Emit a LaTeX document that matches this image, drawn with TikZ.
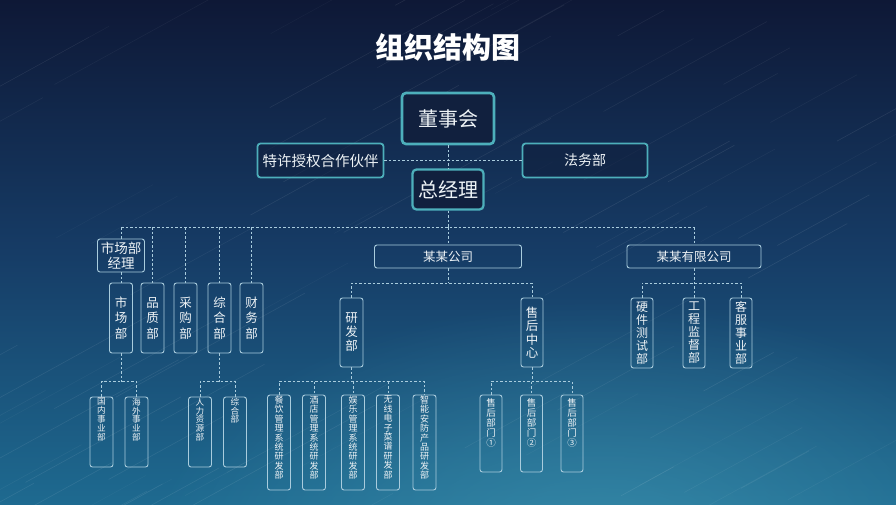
\documentclass[tikz,border=0pt]{standalone}
\usepackage{fontspec}
\setmainfont{Noto Sans CJK SC}
\usetikzlibrary{fadings}
\tikzfading[name=myglow, inner color=transparent!0, outer color=transparent!100]
\definecolor{bgtop}{HTML}{0E1836}
\definecolor{bgmid}{HTML}{163C66}
\definecolor{bgbot}{HTML}{1E6A90}
\definecolor{glowc}{HTML}{4AA3BC}
\definecolor{tealb}{HTML}{4DAFBB}
\definecolor{lineb}{HTML}{A9CCDD}
\definecolor{txt}{HTML}{EEF3F6}
\definecolor{boxfill}{HTML}{11203E}
\newcommand\topv[2]{\parbox[c][#1][t]{20pt}{\centering\vspace{1pt}#2}}
\tikzset{
  topbox/.style={draw=tealb, line width=2.6pt, rounded corners=4pt, fill=boxfill, text=txt, inner sep=0pt},
  sidebox/.style={draw=tealb, line width=1.8pt, rounded corners=3pt, fill=boxfill, fill opacity=0.6, text opacity=1, text=txt, inner sep=0pt},
  lowbox/.style={draw=lineb, line width=0.9pt, rounded corners=2.5pt, text=txt, inner sep=0pt, align=center},
  midv/.style={lowbox, minimum width=23pt, minimum height=70pt, font=\fontsize{12.5}{15.5}\selectfont},
  compbox/.style={lowbox, minimum height=23pt, font=\fontsize{12.5}{14}\selectfont},
  botv/.style={lowbox, minimum width=23pt, font=\fontsize{8.6}{8.8}\selectfont},
  rdv/.style={lowbox, minimum width=23pt, font=\fontsize{9}{9.4}\selectfont},
  shv/.style={lowbox, minimum width=22pt, font=\fontsize{9.5}{10}\selectfont},
  dl/.style={draw=lineb, line width=0.8pt, dash pattern=on 2.5pt off 2pt},
}
\begin{document}
\begin{tikzpicture}[x=1pt, y=-1pt]
\useasboundingbox (0,0) rectangle (896,504);
% background
\shade[top color=bgtop, bottom color=bgbot, middle color=bgmid] (0,0) rectangle (896,504);
\begin{scope}
\clip (0,0) rectangle (896,504);
\fill[glowc, fill opacity=0.55, path fading=myglow] (600,560) ellipse (460 and 260);
\pgfmathsetseed{7}
\foreach \i in {1,...,90}{
  \pgfmathsetmacro\sx{rnd*1000-150}
  \pgfmathsetmacro\sy{rnd*620}
  \pgfmathsetmacro\len{40+rnd*170}
  \pgfmathsetmacro\op{0.03+rnd*0.06}
  \draw[white, opacity=\op, line width=0.6pt] (\sx,\sy) -- ++(\len,-0.55*\len);
}
\end{scope}

% title
\node[text=white, font=\bfseries\fontsize{29}{30}\selectfont] (title) at (448,47) {组织结构图};

% top level
\node[topbox, minimum width=92pt, minimum height=51pt, font=\fontsize{20}{22}\selectfont] (dsh) at (448,118.5) {董事会};
\node[sidebox, minimum width=126pt, minimum height=34pt, font=\fontsize{14.5}{16}\selectfont] (tx) at (320.5,160.5) {特许授权合作伙伴};
\node[sidebox, minimum width=125pt, minimum height=34pt, font=\fontsize{14}{16}\selectfont] (fw) at (585,160.5) {法务部};
\node[topbox, minimum width=71pt, minimum height=40pt, line width=2.3pt, font=\fontsize{20}{22}\selectfont] (zjl) at (448,189.5) {总经理};

\draw[dl] (dsh.south) -- (zjl.north);
\draw[dl] (tx.east) -- (fw.west);

\coordinate (bus) at (0,227);
\coordinate (c2) at (0,283);
\coordinate (c3) at (0,381.5);

% second level
\node[lowbox, minimum width=47pt, minimum height=33pt, font=\fontsize{13.5}{15}\selectfont] (scjl) at (121,255.5) {市场部\\经理};
\node[midv] (sc) at (121,318) {市\\场\\部};
\node[midv] (pz) at (152.5,318) {品\\质\\部};
\node[midv] (cg) at (185.5,318) {采\\购\\部};
\node[midv] (zh) at (219.5,318) {综\\合\\部};
\node[midv] (cw) at (251.5,318) {财\\务\\部};
\node[compbox, minimum width=147pt] (mm) at (448,256.5) {某某公司};
\node[compbox, minimum width=134pt] (mmyx) at (694,256.5) {某某有限公司};

\node[midv, minimum height=69pt, font=\fontsize{12.5}{14}\selectfont] (yf) at (351.5,332.5) {研\\发\\部};
\node[midv, minimum width=22pt, minimum height=69pt, font=\fontsize{12.5}{13.5}\selectfont] (sh) at (532,332.5) {售\\后\\中\\心};
\node[midv, minimum width=22pt, font=\fontsize{12}{13}\selectfont] (yj) at (642,333) {硬\\件\\测\\试\\部};
\node[midv, minimum width=22pt, font=\fontsize{12}{13}\selectfont] (gc) at (694,333) {工\\程\\监\\督\\部};
\node[midv, minimum width=22pt, font=\fontsize{12}{13}\selectfont] (kf) at (741,333) {客\\服\\事\\业\\部};

% third level
\node[botv] (gn) at (101.5,432) {\topv{70pt}{国\\内\\事\\业\\部}};
\node[botv] (hw) at (136.5,432) {\topv{70pt}{海\\外\\事\\业\\部}};
\node[botv] (rl) at (200,432) {\topv{70pt}{人\\力\\资\\源\\部}};
\node[botv] (zh2) at (235,432) {\topv{70pt}{综\\合\\部}};

\node[rdv] (r1) at (279,442.5) {\topv{95pt}{餐\\饮\\管\\理\\系\\统\\研\\发\\部}};
\node[rdv] (r2) at (314,442.5) {\topv{95pt}{酒\\店\\管\\理\\系\\统\\研\\发\\部}};
\node[rdv] (r3) at (353,442.5) {\topv{95pt}{娱\\乐\\管\\理\\系\\统\\研\\发\\部}};
\node[rdv] (r4) at (388,442.5) {\topv{95pt}{无\\线\\电\\子\\菜\\谱\\研\\发\\部}};
\node[rdv] (r5) at (424.5,442.5) {\topv{95pt}{智\\能\\安\\防\\产\\品\\研\\发\\部}};

\node[shv] (s1) at (491,433.5) {\topv{77pt}{\vspace{2pt}售\\后\\部\\门\\①}};
\node[shv] (s2) at (531.5,433.5) {\topv{77pt}{\vspace{2pt}售\\后\\部\\门\\②}};
\node[shv] (s3) at (572,433.5) {\topv{77pt}{\vspace{2pt}售\\后\\部\\门\\③}};

% connectors level 1
\draw[dl] (zjl.south) -- (zjl.south |- bus);
\draw[dl] (scjl.north |- bus) -- (mmyx.north |- bus);
\draw[dl] (scjl.north |- bus) -- (scjl.north);
\foreach \n in {pz,cg,zh,cw,mm,mmyx}{
  \draw[dl] (\n.north |- bus) -- (\n.north);
}
\draw[dl] (scjl.south) -- (sc.north);

% connectors level 2
\draw[dl] (mm.south) -- (mm.south |- c2);
\draw[dl] (yf.north) -- (yf.north |- c2) -- (sh.north |- c2) -- (sh.north);
\draw[dl] (mmyx.south) -- (gc.north);
\draw[dl] (yj.north) -- (yj.north |- c2) -- (kf.north |- c2) -- (kf.north);

% connectors level 3
\draw[dl] (sc.south) -- (sc.south |- c3);
\draw[dl] (gn.north) -- (gn.north |- c3) -- (hw.north |- c3) -- (hw.north);
\draw[dl] (zh.south) -- (zh.south |- c3);
\draw[dl] (rl.north) -- (rl.north |- c3) -- (zh2.north |- c3) -- (zh2.north);
\draw[dl] (yf.south) -- (yf.south |- c3);
\draw[dl] (r1.north) -- (r1.north |- c3) -- (r5.north |- c3) -- (r5.north);
\foreach \n in {r2,r3,r4}{
  \draw[dl] (\n.north |- c3) -- (\n.north);
}
\draw[dl] (sh.south) -- (sh.south |- c3);
\draw[dl] (s1.north) -- (s1.north |- c3) -- (s3.north |- c3) -- (s3.north);
\draw[dl] (s2.north |- c3) -- (s2.north);
\end{tikzpicture}
\end{document}
